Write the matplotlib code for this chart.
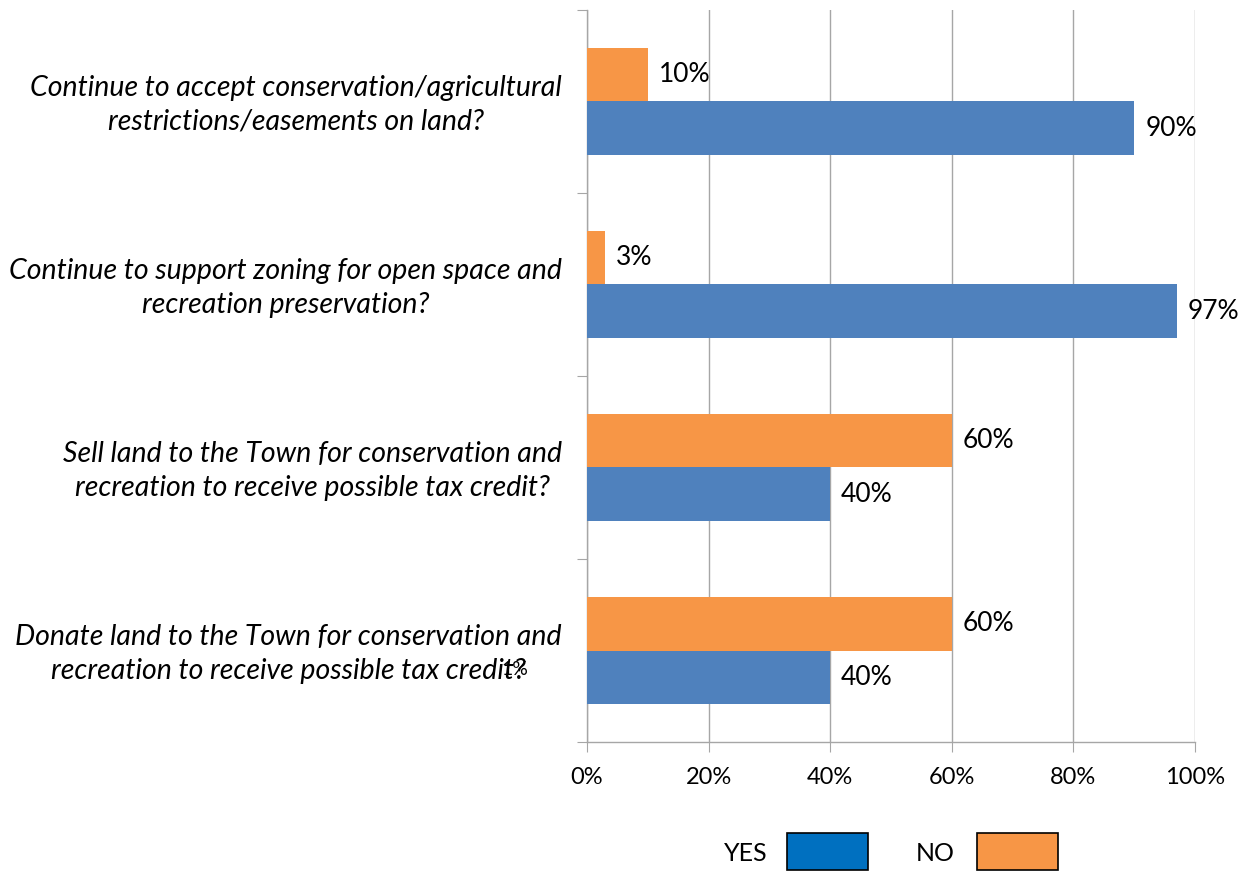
import matplotlib
matplotlib.use("Agg")
import matplotlib.pyplot as plt
from matplotlib.patches import Rectangle

plt.rcParams['font.family'] = ['Lato', 'DejaVu Sans']

categories = [
    "Continue to accept conservation/agricultural\nrestrictions/easements on land?",
    "Continue to support zoning for open space and\nrecreation preservation?",
    "Sell land to the Town for conservation and\nrecreation to receive possible tax credit?",
    "Donate land to the Town for conservation and\nrecreation to receive possible tax credit?",
]
yes_values = [90, 97, 40, 40]
no_values = [10, 3, 60, 60]
x_ticks = [0, 20, 40, 60, 80, 100]
x_tick_labels = ["0%", "20%", "40%", "60%", "80%", "100%"]
stray_label = "1%"

YES_BAR = "#4F81BD"
YES_KEY = "#0070C0"
NO_COLOR = "#F79646"
GRID = "#A6A6A6"

W, H = 1245, 871
fig = plt.figure(figsize=(W / 100, H / 100), dpi=100)
ax = fig.add_axes([587 / W, 1 - 742 / H, 608 / W, 732 / H])

pos = list(range(len(categories)))
h = 0.29
ax.barh([p - h / 2 for p in pos], no_values, height=h, color=NO_COLOR, zorder=3)
ax.barh([p + h / 2 for p in pos], yes_values, height=h, color=YES_BAR, zorder=3)

for p, v in zip(pos, no_values):
    ax.text(v + 1.8, p - h / 2, f"{v}%", va="center", ha="left", fontsize=19, zorder=4)
for p, v in zip(pos, yes_values):
    ax.text(v + 1.8, p + h / 2, f"{v}%", va="center", ha="left", fontsize=19, zorder=4)

ax.set_xlim(0, 100)
ax.set_ylim(3.5, -0.5)

ax.set_xticks(x_ticks)
ax.set_xticklabels(x_tick_labels, fontsize=17)
ax.tick_params(axis="x", length=7, color=GRID, pad=11, direction="out")

# category boundaries as major ticks, labels centred on minor ticks
ax.set_yticks([-0.5, 0.5, 1.5, 2.5, 3.5])
ax.set_yticklabels([])
ax.tick_params(axis="y", which="major", length=7, color=GRID, direction="out")
ax.set_yticks([p - 0.015 for p in pos], minor=True)
ax.set_yticklabels(categories, minor=True, fontsize=20.5, style="italic")
ax.tick_params(axis="y", which="minor", length=0, pad=18)
for t in ax.get_yticklabels(minor=True):
    t.set_multialignment("center")
    t.set_linespacing(1.35)

ax.grid(axis="x", color=GRID, linewidth=1, zorder=0)
for s in ["top", "right"]:
    ax.spines[s].set_visible(False)
for s in ["left", "bottom"]:
    ax.spines[s].set_color(GRID)
    ax.spines[s].set_linewidth(1)

# stray data label overlapping the last category text
ax.text(-14.0, 3 + h / 2 - 0.04, stray_label, ha="left", va="center", fontsize=14,
        zorder=4, clip_on=False)

# legend drawn as keyed boxes below the plot
def key(label, text_right, box_left, color):
    fig.text(text_right / W, 1 - 853 / H, label, ha="right", va="center", fontsize=18)
    fig.add_artist(Rectangle((box_left / W, 1 - 870 / H), 81 / W, 37 / H,
                             transform=fig.transFigure, facecolor=color,
                             edgecolor="black", linewidth=1.2))

key("YES", 768, 787, YES_KEY)
key("NO", 955, 977, NO_COLOR)

fig.savefig("out.png", dpi=100)
